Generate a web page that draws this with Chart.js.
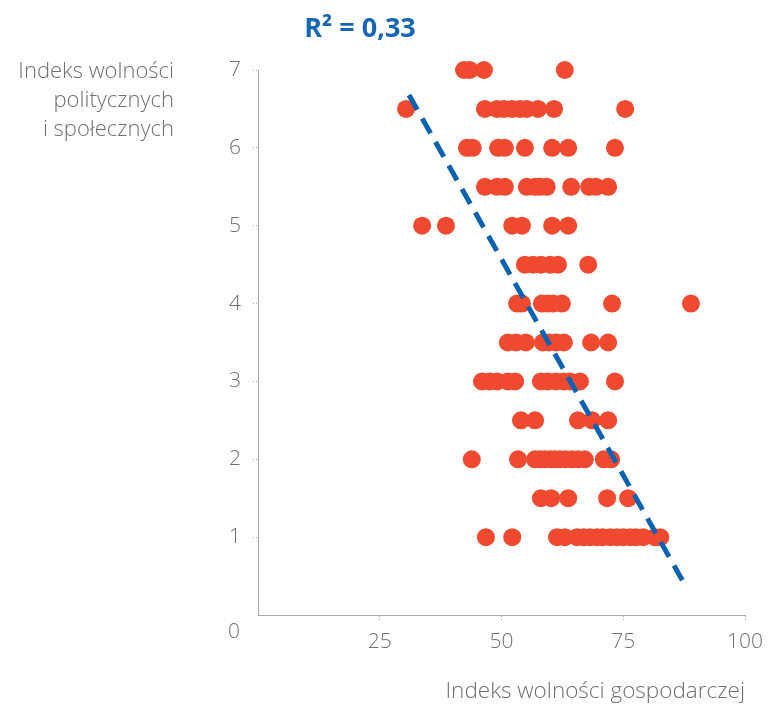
<!DOCTYPE html>
<html>
<head>
<meta charset="utf-8">
<script src="https://cdn.jsdelivr.net/npm/chart.js@4/dist/chart.umd.min.js"></script>
<style>
  html, body { margin: 0; padding: 0; background: #fff; }
  #wrap { width: 773px; height: 705px; }
</style>
</head>
<body>
<div id="wrap"><canvas id="chart" width="773" height="705"></canvas></div>
<script>
// Each row: one value of the political freedom index, with the economic freedom scores of the countries on it
const rowLevels = [7, 6.5, 6, 5.5, 5, 4.5, 4, 3.5, 3, 2.5, 2, 1.5, 1];
const rowScores = [
  [42.3, 43.5, 46.4, 63.0],
  [30.4, 46.6, 49.1, 50.5, 52.2, 53.8, 55.2, 57.5, 60.8, 75.4],
  [42.9, 44.1, 49.3, 50.7, 54.8, 60.4, 63.7, 73.3],
  [46.6, 49.1, 50.7, 55.2, 56.9, 57.9, 59.3, 64.3, 68.0, 69.4, 71.9],
  [33.7, 38.6, 52.2, 54.2, 60.4, 63.7],
  [54.8, 56.5, 58.1, 60.0, 61.6, 67.8],
  [53.2, 54.2, 58.3, 59.5, 60.6, 62.4, 72.7, 88.9],
  [51.3, 53.0, 55.0, 58.5, 59.8, 61.2, 62.8, 68.4, 71.9],
  [46.0, 47.6, 49.1, 51.3, 52.8, 58.1, 59.5, 61.2, 62.8, 64.1, 66.1, 73.3],
  [54.0, 56.9, 65.7, 68.6, 71.9],
  [43.9, 53.4, 56.9, 57.9, 58.9, 60.0, 61.0, 62.0, 63.2, 64.5, 65.7, 67.1, 71.0, 72.5],
  [58.1, 60.2, 63.7, 71.7, 76.0],
  [46.8, 52.2, 61.4, 63.0, 65.5, 66.9, 68.2, 69.6, 70.8, 72.3, 73.7, 75.0, 76.4, 77.6, 79.1, 81.5, 82.6]
];
// Trend line ends
const trendX = [31.0, 88.0];
const trendY = [6.68, 0.35];
const xTicks = [25, 50, 75, 100];
const yTicks = [1, 2, 3, 4, 5, 6, 7];
const titleText = 'R² = 0,33';
const xTitle = 'Indeks wolności gospodarczej';
const yTitleLines = ['Indeks wolności', 'politycznych', 'i społecznych'];

const points = [];
rowLevels.forEach((lvl, i) => {
  rowScores[i].forEach(v => points.push({ x: v, y: lvl }));
});

const FONT = '"Open Sans", Lato, sans-serif';
const GREY = '#707070';

const textPlugin = {
  id: 'texts',
  afterDraw(chart) {
    const ctx = chart.ctx;
    const area = chart.chartArea;
    const ys = chart.scales.y;
    ctx.save();
    // title
    ctx.font = 'bold 27px ' + FONT;
    ctx.fillStyle = '#1666b4';
    ctx.textAlign = 'center';
    ctx.textBaseline = 'middle';
    ctx.fillText(titleText, 360, 29);
    // y axis title, right aligned
    ctx.font = '300 22px ' + FONT;
    ctx.fillStyle = GREY;
    ctx.textAlign = 'right';
    yTitleLines.forEach((t, i) => ctx.fillText(t, 174, ys.getPixelForValue(7) + 2 + i * 29));
    // shared origin label
    ctx.font = '300 21px ' + FONT;
    ctx.textAlign = 'right';
    ctx.fillText('0', area.left - 18, ys.getPixelForValue(0) + 17);
    ctx.restore();
  }
};

new Chart(document.getElementById('chart'), {
  type: 'scatter',
  data: {
    datasets: [{
      data: points,
      backgroundColor: '#ef4a30',
      borderColor: '#ef4a30',
      borderWidth: 0,
      pointRadius: 9,
      pointHoverRadius: 9,
      clip: false,
      order: 2
    }, {
      type: 'line',
      data: trendX.map((x, i) => ({ x, y: trendY[i] })),
      borderColor: '#0a62b1',
      borderWidth: 5,
      borderDash: [17, 10],
      pointRadius: 0,
      fill: false,
      clip: false,
      order: 1
    }]
  },
  options: {
    responsive: false,
    animation: false,
    layout: { padding: { left: 180, right: 28, top: 70, bottom: 0 } },
    plugins: {
      legend: { display: false },
      tooltip: { enabled: false }
    },
    scales: {
      x: {
        type: 'linear',
        min: 0,
        max: 100,
        afterBuildTicks: s => { s.ticks = xTicks.map(v => ({ value: v })); },
        afterFit: s => { s.height = 90; },
        ticks: {
          color: GREY,
          font: { family: FONT, size: 21, weight: 300 },
          padding: 8,
          maxRotation: 0
        },
        grid: {
          drawOnChartArea: false,
          tickLength: 6,
          tickColor: '#aaa',
          tickBorderDash: [1, 2]
        },
        border: { display: true, color: '#aaa', width: 1, dash: [1, 2] },
        title: {
          display: true,
          text: xTitle,
          align: 'end',
          color: GREY,
          font: { family: FONT, size: 22.5, weight: 300 },
          padding: { top: 0, bottom: 0 }
        }
      },
      y: {
        type: 'linear',
        min: 0,
        max: 7,
        afterBuildTicks: s => { s.ticks = yTicks.map(v => ({ value: v })); },
        afterFit: s => { s.width = 78; },
        ticks: {
          color: GREY,
          font: { family: FONT, size: 21, weight: 300 },
          padding: 12
        },
        grid: {
          drawOnChartArea: false,
          tickLength: 5,
          tickColor: '#aaa',
          tickBorderDash: [1, 2]
        },
        border: { display: true, color: '#aaa', width: 1, dash: [1, 2] }
      }
    }
  },
  plugins: [textPlugin]
});
</script>
</body>
</html>
